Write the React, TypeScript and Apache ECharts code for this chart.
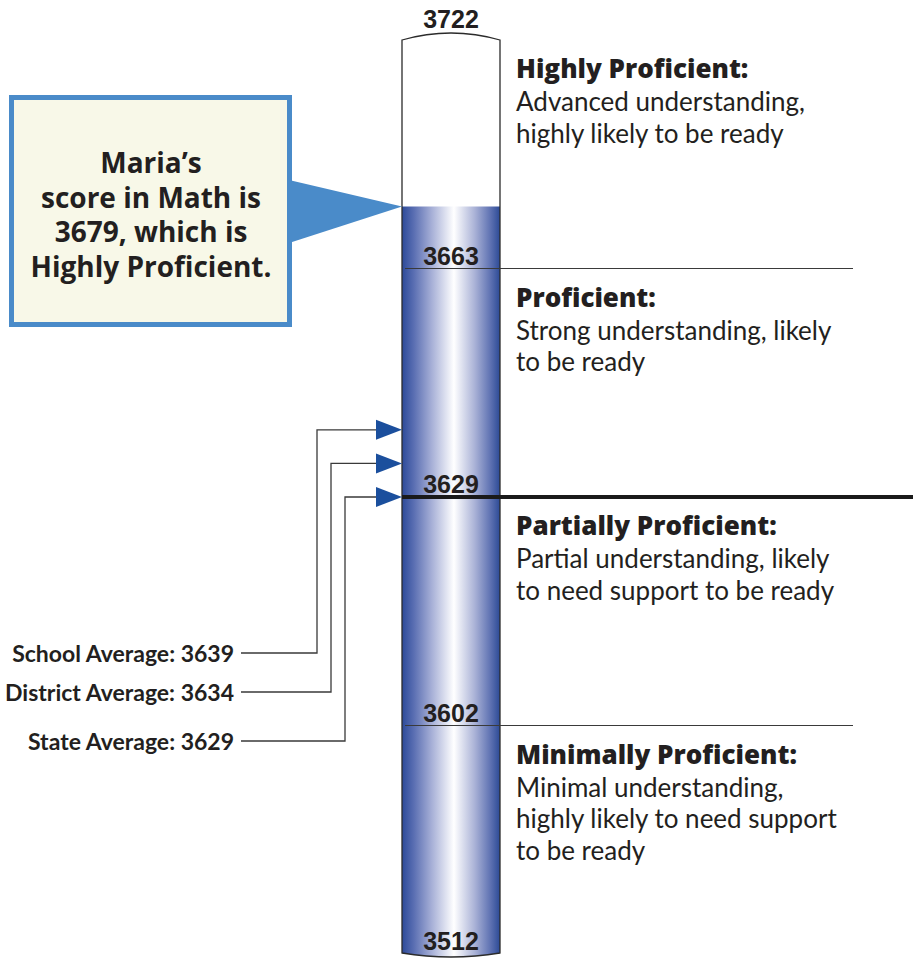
import React, { useEffect, useRef } from "react";
import * as echarts from "echarts";

// ---------- data ----------
const cutScores = [3512, 3602, 3629, 3663, 3722];
const levelNames = ["Minimally Proficient:", "Partially Proficient:", "Proficient:", "Highly Proficient:"];
const levelDescriptions = [
  ["Minimal understanding,", "highly likely to need support", "to be ready"],
  ["Partial understanding, likely", "to need support to be ready"],
  ["Strong understanding, likely", "to be ready"],
  ["Advanced understanding,", "highly likely to be ready"],
];
const studentName = "Maria";
const subjectName = "Math";
const studentScore = 3679;
const studentLevel = "Highly Proficient";
const averageLabels = ["School Average", "District Average", "State Average"];
const averageValues = [3639, 3634, 3629];
const thresholdScore = 3629;

// ---------- layout ----------
const W = 913;
const H = 961;
const X_TUBE_L = 402;
const X_TUBE_R = 500;
const X_TUBE_C = 451;
const X_LINE_END = 853;
const X_TEXT = 516;
const AVG_LABEL_Y = [653, 692, 741];
const AVG_ELBOW_X = [317, 331, 345];
const X_AVG_TEXT_R = 234;
const X_AVG_LINE_START = 241;
const X_ARROW_BASE = 376;
const LATO = "Lato, 'Open Sans', sans-serif";
const OPEN = "'Open Sans', Lato, sans-serif";
const HELV = "'Liberation Sans', Arial, sans-serif";

function toBand(score: number): number {
  for (let i = 0; i < cutScores.length - 1; i++) {
    if (score <= cutScores[i + 1]) {
      return i + (score - cutScores[i]) / (cutScores[i + 1] - cutScores[i]);
    }
  }
  return cutScores.length - 1;
}

function txt(x: number, y: number, text: string, font: string, align = "left", fill = "#231f20") {
  return {
    type: "text",
    x,
    y,
    style: {
      text,
      font,
      fill,
      align,
      verticalAlign: "middle",
      textAlign: align,
      textVerticalAlign: "middle",
    },
  };
}

export default function App() {
  const ref = useRef<HTMLDivElement>(null);

  useEffect(() => {
    document.body.style.margin = "0";
    if (!ref.current) return;
    const chart = echarts.init(ref.current, null, { renderer: "svg" });

    const gradient = new echarts.graphic.LinearGradient(0, 0, 1, 0, [
      { offset: 0, color: "#2c4a99" },
      { offset: 0.12, color: "#5a6eb2" },
      { offset: 0.3, color: "#a5aed6" },
      { offset: 0.53, color: "#ffffff" },
      { offset: 0.74, color: "#abb3d7" },
      { offset: 0.9, color: "#6073b3" },
      { offset: 1, color: "#2c4a96" },
    ]);

    const option: any = {
      animation: false,
      backgroundColor: "#ffffff",
      grid: { left: 0, right: 0, top: 40, bottom: 7, containLabel: false },
      xAxis: { type: "value", min: 0, max: W, show: false },
      yAxis: { type: "value", min: 0, max: cutScores.length - 1, show: false },
      series: [
        // thermometer tube
        {
          type: "custom",
          clip: false,
          data: [[X_TUBE_C, toBand(cutScores[cutScores.length - 1]), toBand(cutScores[0]), toBand(studentScore)]],
          renderItem: (_p: any, api: any) => {
            const yTop = api.coord([0, api.value(1)])[1];
            const yBot = api.coord([0, api.value(2)])[1];
            const yFill = api.coord([0, api.value(3)])[1];
            const L = X_TUBE_L, R = X_TUBE_R, C = X_TUBE_C;
            const outline = `M${L} ${yTop} Q${C} ${yTop - 14} ${R} ${yTop} L${R} ${yBot - 1} Q${C} ${yBot + 7} ${L} ${yBot - 1} Z`;
            const fillPath = `M${L} ${yFill} L${R} ${yFill} L${R} ${yBot - 1} Q${C} ${yBot + 7} ${L} ${yBot - 1} Z`;
            return {
              type: "group",
              children: [
                { type: "path", shape: { pathData: outline }, style: { fill: "#ffffff", stroke: "none" } },
                { type: "path", shape: { pathData: fillPath }, style: { fill: gradient, stroke: "none" } },
                { type: "path", shape: { pathData: outline }, style: { fill: "none", stroke: "#2b2b2b", lineWidth: 1.3 } },
              ],
            };
          },
        },
        // cut score lines
        {
          type: "custom",
          clip: false,
          data: cutScores.slice(1, cutScores.length - 1).map((s) => [X_TUBE_C, toBand(s), s]),
          renderItem: (_p: any, api: any) => {
            const y = api.coord([0, api.value(1)])[1];
            const isThreshold = api.value(2) === thresholdScore;
            return {
              type: "line",
              shape: { x1: X_TUBE_L + (isThreshold ? 0 : 3), y1: y, x2: isThreshold ? W : X_LINE_END, y2: y },
              style: { stroke: isThreshold ? "#1a1a1a" : "#3a3a3a", lineWidth: isThreshold ? 4 : 1.2 },
            };
          },
        },
        // cut score labels
        {
          type: "custom",
          clip: false,
          data: cutScores.map((s, i) => [X_TUBE_C, toBand(s), i]),
          renderItem: (_p: any, api: any) => {
            const y = api.coord([0, api.value(1)])[1];
            const i = api.value(2);
            const isTop = i === cutScores.length - 1;
            return txt(X_TUBE_C, y - (isTop ? 21 : 13), String(cutScores[i]), `bold 25px ${HELV}`, "center");
          },
        },
        // level descriptions
        {
          type: "custom",
          clip: false,
          data: levelNames.map((_n, i) => [X_TEXT, toBand(cutScores[i + 1]), i]),
          renderItem: (_p: any, api: any) => {
            const top = api.coord([0, api.value(1)])[1];
            const i = api.value(2);
            const children: any[] = [txt(X_TEXT, top + 28, levelNames[i], `800 26px ${OPEN}`)];
            levelDescriptions[i].forEach((line, k) => {
              children.push(txt(X_TEXT, top + 61 + k * 31.5, line, `normal 26px ${LATO}`));
            });
            return { type: "group", children };
          },
        },
        // callout
        {
          type: "custom",
          clip: false,
          data: [[X_TUBE_L, toBand(studentScore)]],
          renderItem: (_p: any, api: any) => {
            const y = api.coord([0, api.value(1)])[1];
            const lines = [`${studentName}’s`, `score in ${subjectName} is`, `${studentScore}, which is`, `${studentLevel}.`];
            const children: any[] = [
              { type: "rect", shape: { x: 11.5, y: 97.5, width: 278, height: 227 }, style: { fill: "#f8f8e8", stroke: "#4a8bc9", lineWidth: 5 } },
              { type: "polygon", shape: { points: [[289, 180], [289, 243], [X_TUBE_L, y]] }, style: { fill: "#4a8bc9" } },
            ];
            lines.forEach((l, k) => children.push(txt(151, 162 + k * 34.5, l, `bold 28px ${OPEN}`, "center")));
            return { type: "group", children };
          },
        },
        // averages
        {
          type: "custom",
          clip: false,
          data: averageValues.map((v, i) => [X_TUBE_L, toBand(v), i]),
          renderItem: (_p: any, api: any) => {
            const y = api.coord([0, api.value(1)])[1];
            const i = api.value(2);
            const ly = AVG_LABEL_Y[i];
            const ex = AVG_ELBOW_X[i];
            return {
              type: "group",
              children: [
                {
                  type: "polyline",
                  shape: { points: [[X_AVG_LINE_START, ly], [ex, ly], [ex, y], [X_ARROW_BASE + 2, y]] },
                  style: { fill: "none", stroke: "#3a3a3a", lineWidth: 1.3 },
                },
                {
                  type: "polygon",
                  shape: { points: [[X_ARROW_BASE, y - 10], [X_TUBE_L, y], [X_ARROW_BASE, y + 10]] },
                  style: { fill: "#1b4f9d" },
                },
                txt(X_AVG_TEXT_R, ly, `${averageLabels[i]}: ${averageValues[i]}`, `bold 23px ${LATO}`, "right"),
              ],
            };
          },
        },
      ],
    };

    chart.setOption(option);
    return () => chart.dispose();
  }, []);

  return <div ref={ref} style={{ width: W, height: H }} />;
}
